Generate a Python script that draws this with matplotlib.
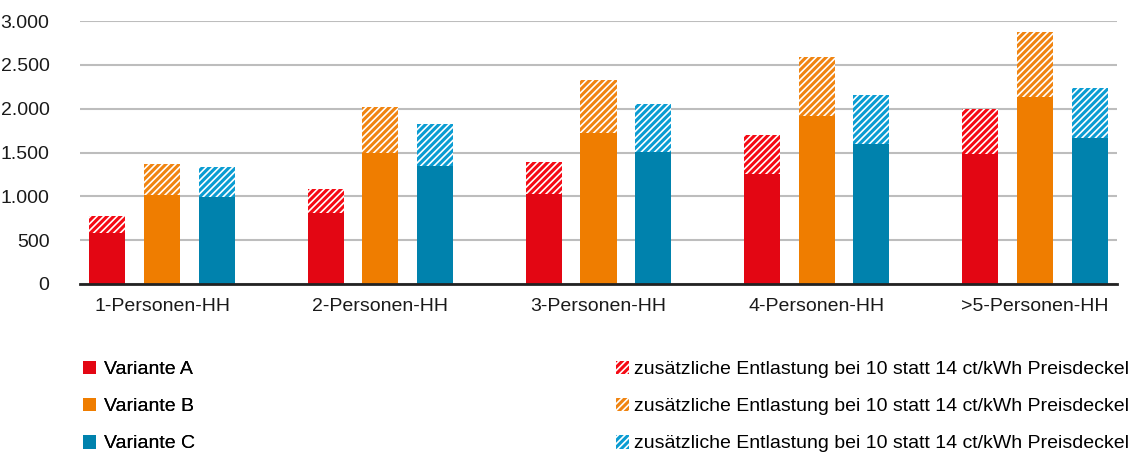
import matplotlib
matplotlib.use("Agg")
import matplotlib.pyplot as plt
import numpy as np

plt.rcParams['font.family'] = ['Liberation Sans', 'DejaVu Sans']
plt.rcParams['hatch.linewidth'] = 1.2

categories = ["1-Personen-HH", "2-Personen-HH", "3-Personen-HH", "4-Personen-HH", ">5-Personen-HH"]
base_a = [578, 807, 1027, 1256, 1480]
total_a = [780, 1081, 1393, 1701, 1994]
base_b = [1016, 1492, 1724, 1918, 2131]
total_b = [1370, 2020, 2329, 2591, 2877]
base_c = [990, 1350, 1507, 1598, 1663]
total_c = [1335, 1826, 2055, 2158, 2237]
yticks = [0, 500, 1000, 1500, 2000, 2500, 3000]
ytick_labels = ["0", "500", "1.000", "1.500", "2.000", "2.500", "3.000"]
labels_base = ["Variante A", "Variante B", "Variante C"]
label_extra = "zusätzliche Entlastung bei 10 statt 14 ct/kWh Preisdeckel"

col_base = ["#E30613", "#EF7D00", "#0082AD"]
col_extra = ["#F50A14", "#F08410", "#0A9CD2"]

fig = plt.figure(figsize=(11.36, 4.53), dpi=100)
ax = fig.add_axes([80/1136, 1-284/453, 1037/1136, 263/453])

x = np.arange(len(categories))
w = 0.165
offs = [-0.25, 0.0, 0.25]
series = [(base_a, total_a), (base_b, total_b), (base_c, total_c)]
handles_base = []
handles_extra = []
for i, (b, t) in enumerate(series):
    b = np.array(b); t = np.array(t)
    hb = ax.bar(x + offs[i], b, width=w, color=col_base[i], linewidth=0, zorder=3)
    he = ax.bar(x + offs[i], t - b, bottom=b, width=w, color=col_extra[i],
                edgecolor="white", linewidth=0, hatch="/////", zorder=3)
    handles_base.append(hb)
    handles_extra.append(he)

ax.set_xlim(-0.376, 4.376)
ax.set_ylim(0, 3000)
ax.set_yticks(yticks)
ax.set_yticklabels(ytick_labels)
ax.set_xticks(x)
ax.set_xticklabels(categories)
ax.tick_params(axis='both', length=0, labelsize=14, colors='#1a1a1a')
ax.tick_params(axis='y', pad=22)
ax.tick_params(axis='x', pad=10)
for s in ["top", "right", "left"]:
    ax.spines[s].set_visible(False)
ax.spines["bottom"].set_color("#222222")
ax.spines["bottom"].set_linewidth(2)
ax.spines["bottom"].set_zorder(5)
ax.yaxis.grid(True, color="#bdbdbd", linewidth=1.5, zorder=0)
ax.set_axisbelow(True)

leg1 = fig.legend(handles_base, labels_base, loc="upper left",
                  bbox_to_anchor=(75/1136, 1-353/453), frameon=False,
                  fontsize=14, handlelength=0.7, handleheight=0.7,
                  handletextpad=0.4, labelspacing=1.0, borderaxespad=0)
leg2 = fig.legend(handles_extra, [label_extra]*3, loc="upper left",
                  bbox_to_anchor=(608/1136, 1-353/453), frameon=False,
                  fontsize=14, handlelength=0.7, handleheight=0.7,
                  handletextpad=0.25, labelspacing=1.0, borderaxespad=0)
fig.add_artist(leg1)

fig.savefig("out.png", dpi=100)
